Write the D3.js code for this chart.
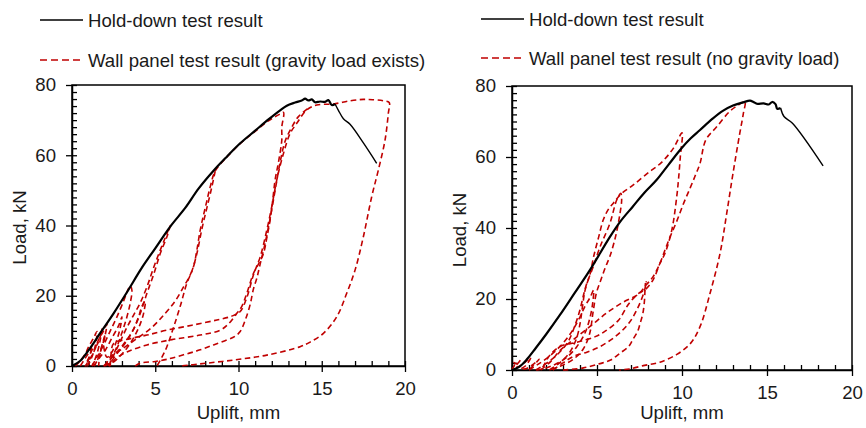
<!DOCTYPE html>
<html>
<head>
<meta charset="utf-8">
<script src="https://cdn.jsdelivr.net/npm/d3@7/dist/d3.min.js"></script>
<style>
  body { margin: 0; background: #fff; }
  svg text { font-family: Arial, "Liberation Sans", sans-serif; fill: #1a1a1a; }
</style>
</head>
<body>
<svg id="chart" width="866" height="428"></svg>
<script>
"use strict";

// uplift (mm), load (kN)
const leftHoldDown = [[0,0],[0.5,1.5],[1.0,4.5],[1.7,9.4],[2.5,15],[3.3,21],[4.2,28],[5.0,33.5],[5.9,39.7],[6.8,45],[7.6,50.5],[8.5,55.6],[9.3,59.6],[10.1,63.4],[11.0,67],[11.8,70.2],[12.5,72.8],[12.9,74.1],[13.4,75],[13.8,75.6],[14.0,76.1],[14.2,75.6],[14.4,75.9],[14.6,75.1],[14.9,75.3],[15.2,75.2],[15.4,75.7],[15.6,74.3],[15.8,74.6],[16.0,72.8],[16.3,70.4],[16.7,68.8],[17.5,63.5],[18.3,57.7]];

const leftCycle0 = [[0.5,0],[0.7,1.5],[0.9,3],[1.1,4.5],[1.2,6],[1.1,3.5],[0.9,1.2],[0.8,0],[1.0,1.5],[1.2,3],[1.4,5],[1.6,7.5],[1.9,10],[2.1,12],[2.0,9],[1.8,5.5],[1.6,2.5],[1.4,0.5],[1.3,0]];
const leftCycle1 = [[0.2,0],[0.5,1.5],[0.8,3.5],[1.0,5.5],[1.3,8],[1.5,9.8],[1.45,7],[1.3,4],[1.1,1.5],[0.9,0],[1.0,2],[1.2,4.5],[1.5,6],[1.7,8.5],[1.8,10.5],[1.7,7.5],[1.5,3.5],[1.3,1],[1.2,0]];
const leftCycle1b = [[1.3,0],[1.6,2],[2.0,4.5],[2.4,8],[2.8,11.5],[3.0,14],[2.9,11],[2.7,7.5],[2.4,4],[2.1,2.5],[1.9,6],[2.0,9],[1.7,4],[1.6,0]];
const leftCycle2 = [[1.2,0],[1.5,2.5],[1.9,6],[2.3,10],[2.7,14],[3.1,18.5],[3.3,21],[3.5,22.8],[3.6,21.5],[3.5,18],[3.3,14],[3.0,9.5],[2.7,5.5],[2.4,2.5],[2.1,0.5],[1.9,0]];
const leftCycle2b = [[1.9,0],[2.3,2],[2.8,4.5],[3.3,7.5],[3.7,10.5],[4.0,14],[4.2,17],[4.4,18.5],[4.3,15],[4.1,12],[3.7,8],[3.2,4.5],[2.6,1.5],[2.2,0]];
const leftCycle3 = [[2.2,0],[2.5,3],[2.9,7],[3.3,11],[3.7,14.5],[4.1,18],[4.5,22.5],[4.9,28],[5.3,33],[5.6,36.5],[5.9,40],[5.7,36.8],[5.3,32],[4.9,26],[4.5,20.7],[4.1,15],[3.7,10.5],[3.2,6.5],[2.7,3.5],[2.3,1],[2.0,0]];
const leftCycle4 = [[2.0,0],[2.3,2.6],[2.9,4.5],[3.8,7.5],[4.8,11],[5.6,15],[6.2,18.5],[6.7,22.5],[7.0,25],[7.3,28.3],[7.5,33],[7.7,38.7],[7.9,43],[8.1,47],[8.3,51],[8.6,55.5],[9.3,59.5],[10.1,63.3],[11.0,66.8],[11.8,69.8],[12.4,71.5],[12.7,72.2],[12.6,68],[12.6,64.3],[12.4,58],[12.2,53],[12.05,47],[11.9,41.6],[11.7,36.5],[11.5,32],[11.2,29],[10.9,26.4],[10.5,20.7],[10.2,17],[9.9,15],[9.4,12],[8.9,10.2],[7.7,8.8],[6.0,7.5],[4.5,6],[3.3,4],[2.6,2],[2.3,0]];
const leftUnload55 = [[8.6,55.5],[8.4,51],[8.1,45],[7.8,39],[7.5,32],[7.2,27],[6.9,23.6],[6.5,17],[6.1,11],[5.7,5.5],[5.4,2.5],[5.1,0]];
const leftCycle5 = [[2.3,0],[2.35,3.5],[2.5,6.4],[3.5,7.8],[4.5,8.8],[5.7,10.2],[7.2,11.6],[8.7,13.1],[9.6,14.2],[10.1,15.5],[10.5,19.5],[10.9,26],[11.3,31],[11.7,38.7],[12.0,45.4],[12.3,53],[12.7,60.5],[13.1,66.2],[13.5,69.1],[14.1,72.9],[14.7,74.3],[15.7,74.6],[16.7,75.5],[17.5,75.9],[18.1,75.8],[18.7,75.5],[19.05,75],[19.0,72],[18.8,64.3],[18.4,55.8],[18.0,48.2],[17.5,36.8],[17.0,27.3],[16.5,20.7],[15.9,14],[15.1,9.3],[14.3,6.8],[13.7,5.5],[11.7,3.1],[9.7,1.7],[7.7,0.6],[6.5,0]];
const leftCycle6 = [[3.8,0],[4.1,0.8],[5.0,1.3],[5.7,1.9],[6.7,3.2],[7.7,4.6],[8.5,6],[9.3,7.4],[9.8,8.5],[10.1,9.8],[10.4,13],[10.7,17.5],[10.9,22],[11.1,25],[11.3,29],[11.6,35],[11.9,42],[12.2,50],[12.5,58],[12.8,64],[13.2,68],[13.6,71],[14.2,73.4]];

const rightHoldDown = [[0,0],[0.4,0.8],[0.84,2.8],[1.4,6.2],[2.0,10],[2.82,15.5],[3.7,21.8],[4.59,28.2],[5.76,37.5],[6.4,42],[7.1,46],[7.8,50],[8.5,53.5],[9.2,57.8],[9.96,62.4],[10.5,65.2],[11.06,67.6],[11.8,70.8],[12.4,73],[13.0,74.5],[13.6,75.4],[14.0,75.9],[14.2,75.5],[14.4,75.0],[14.8,75.1],[15.1,74.8],[15.3,75.5],[15.5,74.9],[15.6,73.6],[15.8,73.8],[16.0,71.4],[16.5,69.5],[18.3,57.5]];

const rightCycle1 = [[0,0.3],[0.15,1.5],[0.05,2.2],[0.3,1.8],[0.5,2.8],[0.2,0.8],[0.6,1.5],[0.9,2.8],[1.1,3.5],[0.8,1.2],[0.5,0.2],[0.9,0.5],[1.3,1.8],[1.6,3],[1.2,1],[1.0,0]];
const rightCycle2 = [[1.0,0],[1.5,1.5],[2.1,3.5],[2.8,6.5],[3.4,10],[3.9,14],[4.3,18],[4.6,20.5],[4.8,22.5],[4.75,19],[4.6,15],[4.3,10.5],[3.8,6.5],[3.2,3.5],[2.5,1.5],[1.8,0.3],[1.4,0]];
const rightCycle3 = [[1.4,0],[2.0,1.8],[2.7,4.5],[3.3,8],[3.7,12.5],[4.0,17],[4.2,21],[4.4,24.4],[4.78,29.1],[5.18,34.7],[5.76,41.3],[6.16,47.9],[6.4,49.8],[6.45,47.9],[6.35,44],[6.2,40],[6.04,36.6],[5.75,31.9],[5.5,29],[5.2,25],[4.96,21.6],[4.76,16],[4.57,10.3],[4.2,6],[3.6,3],[2.8,1],[2.2,0]];
const rightCycle4 = [[2.2,0],[2.8,2],[3.4,5],[3.8,9],[4.0,13],[4.15,18],[4.3,22.5],[4.6,27.2],[4.8,31.9],[5.1,37.5],[5.37,42.3],[5.7,45.5],[5.96,47],[6.4,49.5],[7.1,52],[8.0,55.5],[8.8,58.5],[9.5,62.5],[10.0,66.8],[9.9,60],[9.8,54],[9.69,48.8],[9.4,39.4],[9.0,32.9],[8.7,30],[8.3,25.4],[7.8,22.5],[7.45,21.6],[6.86,18.6],[6.28,14.1],[5.5,11],[4.9,9.4],[3.8,7.8],[2.82,6.6],[2.2,4],[1.9,1.5],[1.7,0]];
const rightCycle5 = [[1.7,0],[2.3,2.5],[2.82,5.5],[3.6,8.5],[4.78,13],[5.55,16],[6.5,19],[7.45,21.4],[7.9,24],[8.3,26.3],[8.7,30],[9.0,33.8],[9.3,37.5],[9.7,42],[10.1,47],[10.5,51.5],[10.8,55],[11.06,58.2],[11.4,64.8],[12.04,68.5],[12.8,72.8],[13.3,74.6],[13.7,75.6],[13.6,72],[13.4,66.7],[13.0,55.4],[12.63,44.1],[12.24,32.9],[11.65,21.6],[11.06,12.2],[10.5,7.5],[9.7,4.4],[8.7,2.2],[7.8,1.3],[6.9,0.3],[6.3,0]];
const rightCycle6 = [[3.0,0],[4.2,0.6],[5.18,1.8],[5.8,2.8],[6.34,4.7],[6.86,6.6],[7.1,8.5],[7.4,11],[7.53,13],[7.7,16],[7.8,20],[7.82,22.3],[7.85,24.5]];
const rightCycle7 = [[2.4,0],[3.0,2],[3.6,3.8],[4.4,5],[5.18,6.6],[6.1,9.5],[6.86,13.1],[7.4,17.5],[7.8,22.5],[7.9,25]];

const xTicks = [0, 5, 10, 15, 20];
const yTicks = [0, 20, 40, 60, 80];
const legendLabels = ["Hold-down test result", "Wall panel test result (gravity load exists)", "Wall panel test result (no gravity load)"];

const RED = "#c00000";
const FONT = 18.6;
const TAIL_START = 15.8; // post-peak part of hold-down curve is drawn thinner

const svg = d3.select("#chart");

const panels = [
  { left: 72, right: 405, top: 85, bottom: 366, holdDown: leftHoldDown,
    cycles: [leftCycle0, leftCycle1, leftCycle1b, leftCycle2, leftCycle2b, leftCycle3, leftCycle4, leftUnload55, leftCycle5, leftCycle6],
    legX: 40, legY: [20, 60], legText: [legendLabels[0], legendLabels[1]] },
  { left: 512, right: 852, top: 86, bottom: 370, holdDown: rightHoldDown,
    cycles: [rightCycle1, rightCycle2, rightCycle3, rightCycle4, rightCycle5, rightCycle6, rightCycle7],
    legX: 481, legY: [19, 58], legText: [legendLabels[0], legendLabels[2]] }
];

function drawPanel(p) {
  const x = d3.scaleLinear().domain([0, 20]).range([p.left, p.right]);
  const y = d3.scaleLinear().domain([0, 80]).range([p.bottom, p.top]);
  const g = svg.append("g");

  // minor ticks point inward
  g.append("g").attr("transform", `translate(0,${p.bottom})`)
    .call(d3.axisBottom(x).tickValues(d3.range(0, 21, 1)).tickSize(-5).tickFormat(""))
    .call(a => a.select(".domain").remove());
  g.append("g").attr("transform", `translate(${p.left},0)`)
    .call(d3.axisLeft(y).tickValues(d3.range(0, 81, 2)).tickSize(-5).tickFormat(""))
    .call(a => a.select(".domain").remove());

  // major ticks point outward
  const xa = g.append("g").attr("transform", `translate(0,${p.bottom})`)
    .call(d3.axisBottom(x).tickValues(xTicks).tickSize(6).tickPadding(10).tickSizeOuter(0));
  xa.selectAll("text").attr("font-size", FONT).attr("dy", "0.71em");
  const ya = g.append("g").attr("transform", `translate(${p.left},0)`)
    .call(d3.axisLeft(y).tickValues(yTicks).tickSize(6).tickPadding(10).tickSizeOuter(0));
  ya.selectAll("text").attr("font-size", FONT);
  g.selectAll(".tick line").attr("stroke", "#000").attr("stroke-width", 1.3);
  g.selectAll(".domain").attr("stroke", "#000").attr("stroke-width", 1.5);
  g.selectAll(".tick text").attr("fill", "#1a1a1a").attr("font-family", "Arial, 'Liberation Sans', sans-serif");

  // box
  g.append("rect").attr("x", p.left).attr("y", p.top)
    .attr("width", p.right - p.left).attr("height", p.bottom - p.top)
    .attr("fill", "none").attr("stroke", "#000").attr("stroke-width", 1.5);

  const line = d3.line().x(d => x(d[0])).y(d => y(d[1])).curve(d3.curveCatmullRom.alpha(0.5));

  g.selectAll("path.cycle").data(p.cycles).join("path").attr("class", "cycle")
    .attr("d", line).attr("fill", "none").attr("stroke", RED)
    .attr("stroke-width", 1.6).attr("stroke-dasharray", "5.5,3.5");

  g.append("path").attr("d", line(p.holdDown.filter(d => d[0] <= TAIL_START))).attr("fill", "none")
    .attr("stroke", "#000").attr("stroke-width", 2.2);
  g.append("path").attr("d", line(p.holdDown.filter(d => d[0] >= TAIL_START))).attr("fill", "none")
    .attr("stroke", "#000").attr("stroke-width", 1.4);

  // axis titles
  g.append("text").attr("x", (p.left + p.right) / 2).attr("y", 419)
    .attr("text-anchor", "middle").attr("font-size", FONT).text("Uplift, mm");
  g.append("text").attr("transform", `translate(${p.left - 46},${(p.top + p.bottom) / 2 + 2}) rotate(-90)`)
    .attr("text-anchor", "middle").attr("font-size", FONT).text("Load, kN");

  // legend
  g.append("line").attr("x1", p.legX).attr("x2", p.legX + 43)
    .attr("y1", p.legY[0]).attr("y2", p.legY[0]).attr("stroke", "#000").attr("stroke-width", 1.5);
  g.append("line").attr("x1", p.legX).attr("x2", p.legX + 43)
    .attr("y1", p.legY[1]).attr("y2", p.legY[1]).attr("stroke", RED)
    .attr("stroke-width", 1.5).attr("stroke-dasharray", "7,4");
  p.legText.forEach((t, i) => {
    g.append("text").attr("x", p.legX + 48).attr("y", p.legY[i] + 6.5)
      .attr("font-size", FONT).text(t);
  });
}

panels.forEach(drawPanel);
</script>
</body>
</html>
